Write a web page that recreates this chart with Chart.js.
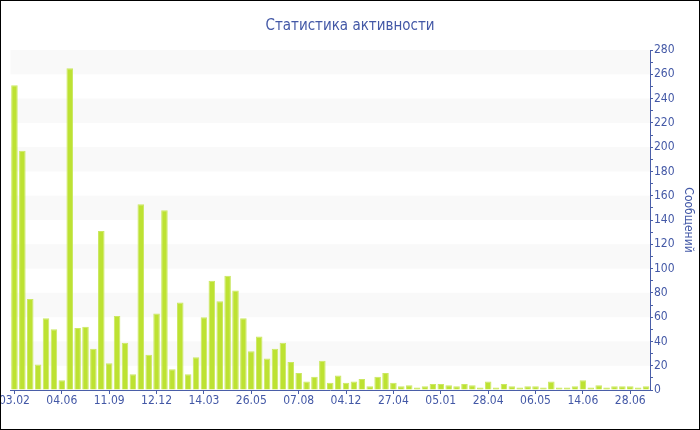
<!DOCTYPE html>
<html>
<head>
<meta charset="utf-8">
<script src="https://cdn.jsdelivr.net/npm/chart.js@4/dist/chart.umd.min.js"></script>
<style>
  html, body { margin: 0; padding: 0; background: #fff; }
  #frame { width: 700px; height: 430px; box-sizing: border-box; border: 1px solid #000; overflow: hidden; }
  canvas { display: block; }
</style>
</head>
<body>
<div id="frame"><canvas id="activityChart" width="698" height="428"></canvas></div>
<script>
// === Data ===
const tickLabels = ['03.02', '04.06', '11.09', '12.12', '14.03', '26.05', '07.08',
                    '04.12', '27.04', '05.01', '28.04', '06.05', '14.06', '28.06'];
const tickEvery = 6;
const messages = [
  251, 197, 75, 21, 59, 50, 8, 265, 51, 52,
  34, 131, 22, 61, 39, 13, 153, 29, 63, 148,
  17, 72, 13, 27, 60, 90, 73, 94, 82, 59,
  32, 44, 26, 34, 39, 23, 14, 7, 11, 24,
  6, 12, 6, 7, 9, 3, 11, 14, 6, 3,
  4, 2, 3, 5, 5, 4, 3, 5, 4, 2,
  7, 2, 5, 3, 2, 3, 3, 2, 7, 2,
  2, 3, 8, 2, 4, 2, 3, 3, 3, 2,
  3
];
const yMax = 280;
const yStep = 10;
const yLabelStep = 20;

// === Styles ===
const FONT = '"DejaVu Sans Condensed", "DejaVu Sans", sans-serif';
const AXIS_COLOR = '#4a5ea8';
const LABEL_COLOR = '#4358a6';
const BAND_COLOR = '#f9f9f9';

// categories: labelled every 6th bar
const categories = messages.map((_, i) => (i % tickEvery === 0 ? (tickLabels[i / tickEvery] || '') : ''));

// alternating plot bands
const plotBands = {
  id: 'plotBands',
  beforeDatasetsDraw(chart) {
    const { ctx, chartArea } = chart;
    const y = chart.scales.y;
    ctx.save();
    ctx.fillStyle = BAND_COLOR;
    for (let v = yLabelStep; v < yMax; v += yLabelStep * 2) {
      const top = y.getPixelForValue(v + yLabelStep);
      const bottom = y.getPixelForValue(v);
      ctx.fillRect(chartArea.left, top, chartArea.right - chartArea.left, bottom - top);
    }
    ctx.restore();
  }
};

new Chart(document.getElementById('activityChart'), {
  type: 'bar',
  data: {
    labels: categories,
    datasets: [{
      label: 'Сообщений',
      data: messages,
      backgroundColor: '#bde232',
      borderColor: '#cbe862',
      borderWidth: 1,
      barPercentage: 0.83,
      categoryPercentage: 1
    }]
  },
  options: {
    responsive: false,
    animation: false,
    devicePixelRatio: 1,
    layout: { padding: 0 },
    plugins: {
      legend: { display: false },
      tooltip: { enabled: false },
      title: {
        display: true,
        text: 'Статистика активности',
        color: LABEL_COLOR,
        font: { family: FONT, size: 15, weight: 'normal' },
        padding: { top: 16, bottom: 15 }
      }
    },
    scales: {
      x: {
        offset: true,
        grid: {
          offset: false,
          drawOnChartArea: false,
          tickLength: 4,
          tickColor: (ctx) => (ctx.index % tickEvery === 0 ? AXIS_COLOR : 'transparent')
        },
        border: { display: true, color: AXIS_COLOR, width: 1 },
        ticks: {
          autoSkip: false,
          maxRotation: 0,
          minRotation: 0,
          padding: 0,
          color: LABEL_COLOR,
          font: { family: FONT, size: 12 }
        },
        afterFit(scale) {
          // keep the plot edge where the reference has it; first label gets clipped
          scale.paddingLeft = 9.5;
          scale.paddingRight = 0;
          scale.height = 39;
        }
      },
      y: {
        position: 'right',
        min: 0,
        max: yMax,
        grid: {
          drawOnChartArea: false,
          tickLength: 3,
          tickColor: AXIS_COLOR
        },
        border: { display: true, color: AXIS_COLOR, width: 1 },
        ticks: {
          stepSize: yStep,
          autoSkip: false,
          padding: 1,
          color: LABEL_COLOR,
          font: { family: FONT, size: 12 },
          callback: (v) => (v % yLabelStep === 0 ? v : '')
        },
        title: {
          display: true,
          text: 'Сообщений',
          color: LABEL_COLOR,
          font: { family: FONT, size: 12 },
          padding: { top: 4, bottom: 4 }
        },
        afterFit(scale) {
          scale.width = 49;
        }
      }
    }
  },
  plugins: [plotBands]
});
</script>
</body>
</html>
